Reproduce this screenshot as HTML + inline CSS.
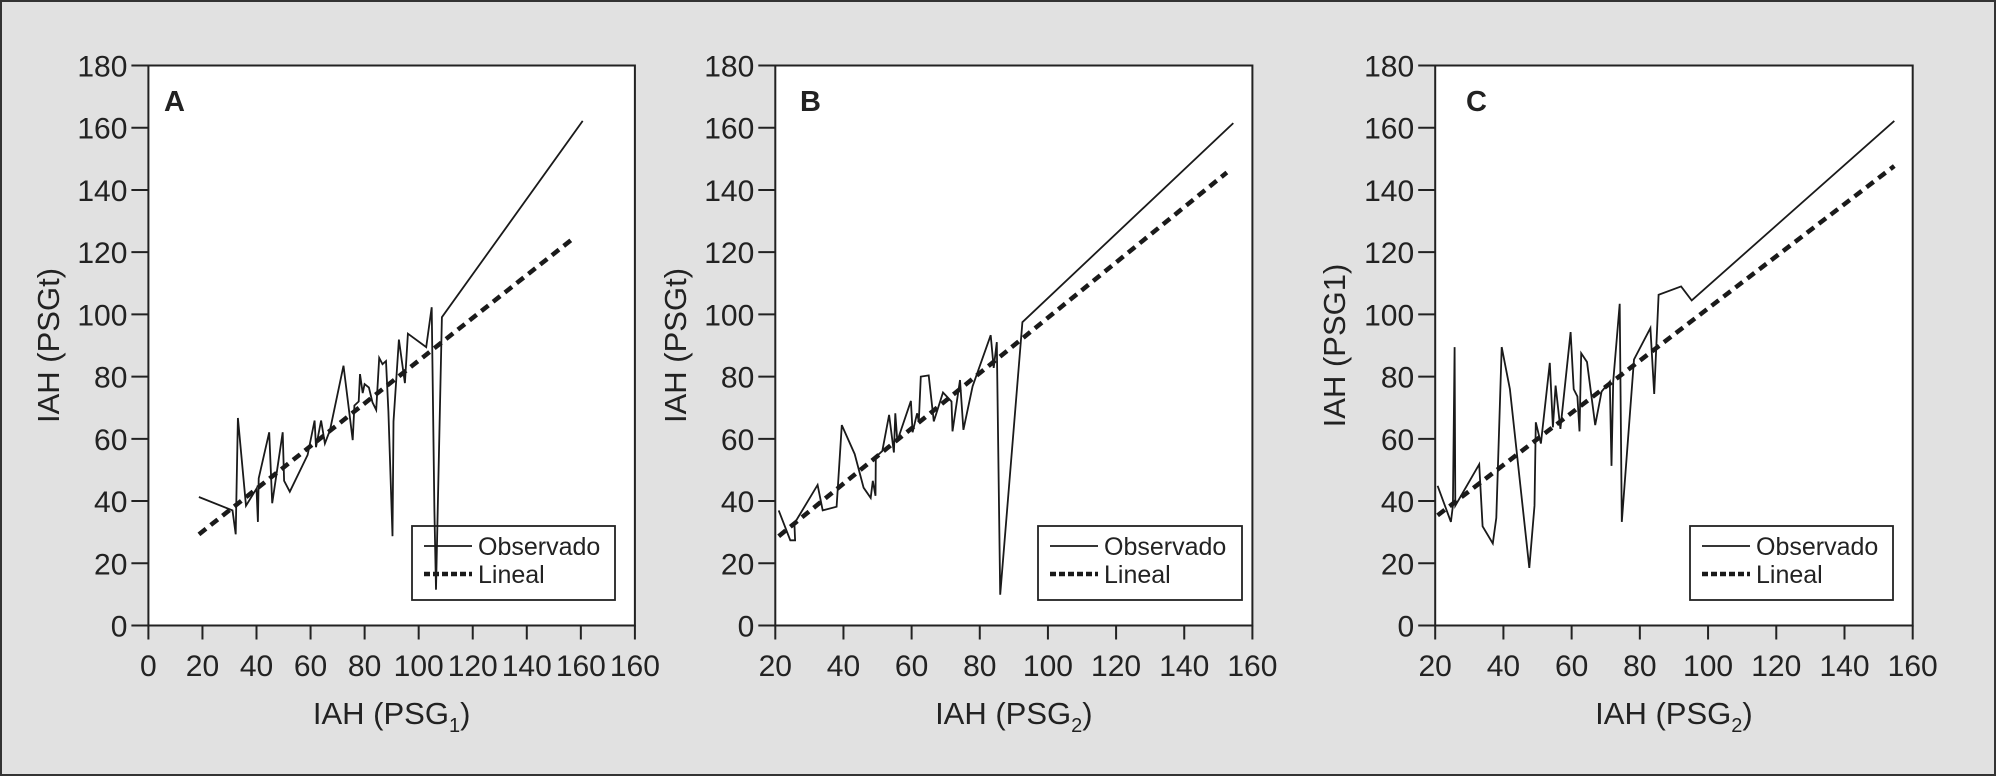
<!DOCTYPE html>
<html><head><meta charset="utf-8">
<style>
html,body{margin:0;padding:0;}
body{width:1996px;height:776px;background:#e1e1e1;overflow:hidden;}
#frame{position:absolute;left:0;top:0;width:1992px;height:772px;border:2px solid #333;background:#e1e1e1;}
svg{position:absolute;left:0;top:0;}
text{font-family:"Liberation Sans",Arial,sans-serif;fill:#222;}
</style></head>
<body>
<div id="frame"></div>
<svg id="chart" width="1996" height="776"></svg>
<script>
// Panel A data
const obsAx=[18.7,31.1,32.3,33.1,36.1,40,40.5,40.8,44.7,45.8,49.7,50.2,52.3,58.9,61.5,62,63.9,65.3,67.2,72.2,75.6,76.2,77.8,78.3,79.3,80,81.6,82.9,84.3,85.4,86.6,87.9,88.8,90.3,90.7,92.7,94.9,96,102.8,104.8,105.8,106.4,108.6,160.7];
const obsAy=[41.3,37,29.3,66.7,38.5,44,33.3,47.3,62.1,39.3,62.1,46.5,43,54.8,65.9,57.3,65.9,58.5,62.8,83.5,59.6,70.7,72,80.8,74.7,77.6,76.5,71.7,69.3,86,84,85,68.8,28.7,65.6,91.9,77.9,93.8,89.5,102.3,37,11.5,99.1,162.2];
const linAx=[18.7,157];
const linAy=[29.3,124.3];
// Panel B data
const obsBx=[21,24.4,25.8,25.6,32.4,33.9,38,39.5,43.3,45.9,48,48.6,49.4,49.5,51.4,53.4,54.8,55.2,55.8,59.8,60.3,61.6,62.1,62.7,65,66.5,69.2,71.7,72,74.2,75.2,77.9,83.2,84.1,85,86,92.5,154.4];
const obsBy=[37,27.4,27.4,32.8,45.2,37,38.2,64.4,55.1,44.3,41,46.5,41.7,54.2,56.1,67.7,55.6,68.2,59.3,72.2,62.1,68.2,65.6,80,80.4,65.6,74.9,72,62.4,78.9,62.9,76.9,93.3,82.8,91.1,9.9,97.5,161.5];
const linBx=[21,152.5];
const linBy=[28.7,145.6];
// Panel C data
const obsCx=[20.7,24.6,25.2,25.7,25.9,32.9,33.9,36.9,37.9,39.5,41.9,47.6,49.1,49.5,51,53.6,54.5,55.3,56.7,59.7,60.6,61.7,62.3,62.8,64.5,66.9,68.8,71.2,71.7,72.2,74.1,74.7,78.3,83.1,84.2,85.5,92.1,95.2,154.6];
const obsCy=[44.9,33.3,38.5,89.5,38.5,51.8,31.9,26.4,34.6,89.5,76,18.5,38.5,65.3,58.5,84.4,63.7,77.1,63.2,94.3,76,73.6,62.4,87.5,84.7,64.4,75.2,78.4,51.3,78.4,103.4,33.3,85.5,95.6,74.4,106.3,109,104.5,162.2];
const linCx=[20.7,154.6];
const linCy=[35.4,147.7];
// Axis tick labels
const yTicks=[0,20,40,60,80,100,120,140,160,180];
const xTicksA=[0,20,40,60,80,100,120,140,160,180];
const xLabelsA=["0","20","40","60","80","100","120","140","160","160"];
const xTicksBC=[20,40,60,80,100,120,140,160];
const xLabelsBC=["20","40","60","80","100","120","140","160"];

const NS="http://www.w3.org/2000/svg";
const svg=document.getElementById('chart');
function mk(tag,attrs,parent){const e=document.createElementNS(NS,tag);for(const k in attrs)e.setAttribute(k,attrs[k]);(parent||svg).appendChild(e);return e;}

const panels=[
 {id:'a',L:148.4,R:634.9,xmin:0,xmax:180,xt:xTicksA,xl:xLabelsA,ox:obsAx,oy:obsAy,lx:linAx,ly:linAy,letter:'A',ytitle:'IAH (PSGt)',ytx:48,sub:'1',leg:[412,615],lblx:164},
 {id:'b',L:775.3,R:1252.4,xmin:20,xmax:160,xt:xTicksBC,xl:xLabelsBC,ox:obsBx,oy:obsBy,lx:linBx,ly:linBy,letter:'B',ytitle:'IAH (PSGt)',ytx:675,sub:'2',leg:[1038,1242],lblx:800},
 {id:'c',L:1435.2,R:1912.7,xmin:20,xmax:160,xt:xTicksBC,xl:xLabelsBC,ox:obsCx,oy:obsCy,lx:linCx,ly:linCy,letter:'C',ytitle:'IAH (PSG1)',ytx:1334,sub:'2',leg:[1690,1893],lblx:1466}
];
const T=65.5,B=625.5;
panels.forEach(p=>{
  const g=mk('g',{});
  
  
  const xs=v=>p.L+(v-p.xmin)/(p.xmax-p.xmin)*(p.R-p.L);
  const ys=v=>B-(v/180)*(B-T);
  const plot=mk('rect',{x:p.L,y:T,width:p.R-p.L,height:B-T,fill:'#fff',stroke:'#222','stroke-width':2},g);
  
  
  yTicks.forEach(v=>{
    const y=ys(v);
    mk('line',{x1:p.L-17,x2:p.L,y1:y,y2:y,stroke:'#222','stroke-width':2},g);
    const t=mk('text',{x:p.L-21,y:y+11,'text-anchor':'end','font-size':30},g);
    t.textContent=v;
    
    
  });
  p.xt.forEach((v,i)=>{
    const x=xs(v);
    mk('line',{x1:x,x2:x,y1:B,y2:B+14,stroke:'#222','stroke-width':2},g);
    const t=mk('text',{x:x,y:676,'text-anchor':'middle','font-size':30},g);
    t.textContent=p.xl[i];
    
    
  });
  const xt=mk('text',{x:(p.L+p.R)/2,y:724,'text-anchor':'middle','font-size':31},g);
  
  
  xt.appendChild(document.createTextNode('IAH (PSG'));
  const ts=mk('tspan',{'font-size':20,dy:8},xt);ts.textContent=p.sub;
  const ts2=mk('tspan',{dy:-8},xt);ts2.textContent=')';
  const yt=mk('text',{x:0,y:0,'text-anchor':'middle','font-size':31,transform:`translate(${p.ytx+11},${(T+B)/2}) rotate(-90)`},g);
  yt.textContent=p.ytitle;
  
  
  const lt=mk('text',{x:p.lblx,y:111,'font-size':29,'font-weight':'bold'},g);
  lt.textContent=p.letter;
  
  
  // legend (drawn before series so the line passes over it)
  const lg=mk('g',{},g);
  
  
  const x0=p.leg[0],x1=p.leg[1];
  mk('rect',{x:x0,y:526,width:x1-x0,height:74,fill:'#fff',stroke:'#222','stroke-width':1.8},lg);
  mk('line',{x1:x0+12,x2:x0+60,y1:546,y2:546,stroke:'#1a1a1a','stroke-width':1.8},lg);
  mk('line',{x1:x0+12,x2:x0+60,y1:574,y2:574,stroke:'#1a1a1a','stroke-width':4.5,'stroke-dasharray':'6 3'},lg);
  const o=mk('text',{x:x0+66,y:555,'font-size':25},lg);o.textContent='Observado';
  
  
  const l=mk('text',{x:x0+66,y:583,'font-size':25},lg);l.textContent='Lineal';
  
  
  const ll=mk('line',{x1:xs(p.lx[0]),y1:ys(p.ly[0]),x2:xs(p.lx[1]),y2:ys(p.ly[1]),stroke:'#1a1a1a','stroke-width':4.5,'stroke-dasharray':'9 6'},g);
  
  
  const pts=p.ox.map((v,i)=>xs(v).toFixed(1)+','+ys(p.oy[i]).toFixed(1)).join(' ');
  const pl=mk('polyline',{points:pts,fill:'none',stroke:'#1a1a1a','stroke-width':1.8,'stroke-linejoin':'miter'},g);
  
  
});
</script>
</body></html>
